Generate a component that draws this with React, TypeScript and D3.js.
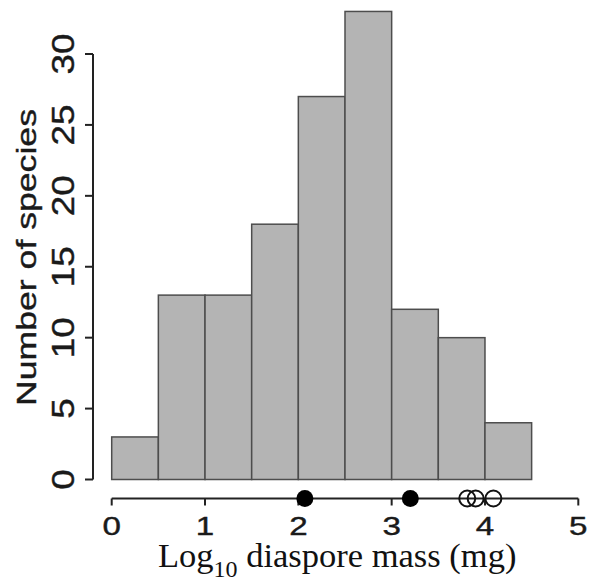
import * as d3 from 'd3'
import { useRef, useEffect } from 'react'

const binStarts = [0, 0.5, 1, 1.5, 2, 2.5, 3, 3.5, 4]
const binWidth = 0.5
const counts = [3, 13, 13, 18, 27, 33, 12, 10, 4]
const filledPoints = [2.07, 3.2]
const openPoints = [3.81, 3.9, 4.09]
const xTicks = [0, 1, 2, 3, 4, 5]
const yTicks = [0, 5, 10, 15, 20, 25, 30]

export default function App() {
    const svgRef = useRef<SVGSVGElement>(null)
    useEffect(() => {
        const width = 590
        const height = 586
        const svg = d3.select(svgRef.current)
        svg.selectAll('*').remove()
        svg.attr('width', width).attr('height', height)

        const xScale = d3.scaleLinear().domain([0, 5]).range([111.7, 578.3])
        const yScale = d3.scaleLinear().domain([0, 30]).range([479.5, 54])
        const sans = 'Liberation Sans, Arial, sans-serif'

        // bars
        svg.append('g')
            .selectAll('rect')
            .data(counts)
            .join('rect')
            .attr('x', (d, i) => xScale(binStarts[i]))
            .attr('width', xScale(binWidth) - xScale(0))
            .attr('y', d => yScale(d))
            .attr('height', d => yScale(0) - yScale(d))
            .attr('fill', '#b4b4b4')
            .attr('stroke', '#4d4d4d')
            .attr('stroke-width', 1.5)

        // y axis
        const yAxis = svg.append('g')
        yAxis.append('line')
            .attr('x1', 93).attr('x2', 93)
            .attr('y1', yScale(30)).attr('y2', yScale(0))
            .attr('stroke', '#222').attr('stroke-width', 2)
        yAxis.selectAll('line.tick')
            .data(yTicks)
            .join('line')
            .attr('class', 'tick')
            .attr('x1', 85).attr('x2', 93)
            .attr('y1', d => yScale(d)).attr('y2', d => yScale(d))
            .attr('stroke', '#222').attr('stroke-width', 2)
        yAxis.selectAll('text')
            .data(yTicks)
            .join('text')
            .attr('transform', d => `translate(74, ${yScale(d)}) rotate(-90) scale(1.15, 1)`)
            .attr('text-anchor', 'middle')
            .attr('font-family', sans)
            .attr('font-size', 32)
            .attr('fill', '#1a1a1a')
            .attr('stroke', '#1a1a1a')
            .attr('stroke-width', 0.4)
            .text(d => d)

        // x axis
        const xAxisY = 498.5
        const xAxis = svg.append('g')
        xAxis.append('line')
            .attr('x1', xScale(0)).attr('x2', xScale(5))
            .attr('y1', xAxisY).attr('y2', xAxisY)
            .attr('stroke', '#222').attr('stroke-width', 2)
        xAxis.selectAll('line.tick')
            .data(xTicks)
            .join('line')
            .attr('class', 'tick')
            .attr('x1', d => xScale(d)).attr('x2', d => xScale(d))
            .attr('y1', xAxisY).attr('y2', xAxisY + 7)
            .attr('stroke', '#222').attr('stroke-width', 2)
        xAxis.selectAll('text')
            .data(xTicks)
            .join('text')
            .attr('transform', d => `translate(${xScale(d)}, 535) scale(1.3, 1)`)
            .attr('text-anchor', 'middle')
            .attr('font-family', sans)
            .attr('font-size', 25.5)
            .attr('fill', '#1a1a1a')
            .attr('stroke', '#1a1a1a')
            .attr('stroke-width', 0.4)
            .text(d => d)

        // points on the axis
        svg.append('g')
            .selectAll('circle')
            .data(openPoints)
            .join('circle')
            .attr('cx', d => xScale(d))
            .attr('cy', xAxisY)
            .attr('r', 8)
            .attr('fill', 'none')
            .attr('stroke', '#111')
            .attr('stroke-width', 2)
        svg.append('g')
            .selectAll('circle')
            .data(filledPoints)
            .join('circle')
            .attr('cx', d => xScale(d))
            .attr('cy', xAxisY)
            .attr('r', 8.5)
            .attr('fill', '#000')

        // y label
        svg.append('text')
            .attr('transform', `translate(36, ${(110 + 405) / 2}) rotate(-90) scale(1.25, 1)`)
            .attr('text-anchor', 'middle')
            .attr('font-family', sans)
            .attr('font-size', 28.5)
            .attr('fill', '#1a1a1a')
            .attr('stroke', '#1a1a1a')
            .attr('stroke-width', 0.4)
            .text('Number of species')

        // x label
        const xl = svg.append('text')
            .attr('x', 158)
            .attr('y', 567)
            .attr('font-family', 'Liberation Serif, Times New Roman, serif')
            .attr('font-size', 34.5)
            .attr('fill', '#111')
        xl.append('tspan').text('Log')
        xl.append('tspan').attr('dy', 10).attr('font-size', 24).text('10')
        xl.append('tspan').attr('dy', -10).text(' diaspore mass (mg)')
    }, [])
    return (
        <svg ref={svgRef} style={{ position: 'absolute', left: 0, top: 0 }}></svg>
    )
}
